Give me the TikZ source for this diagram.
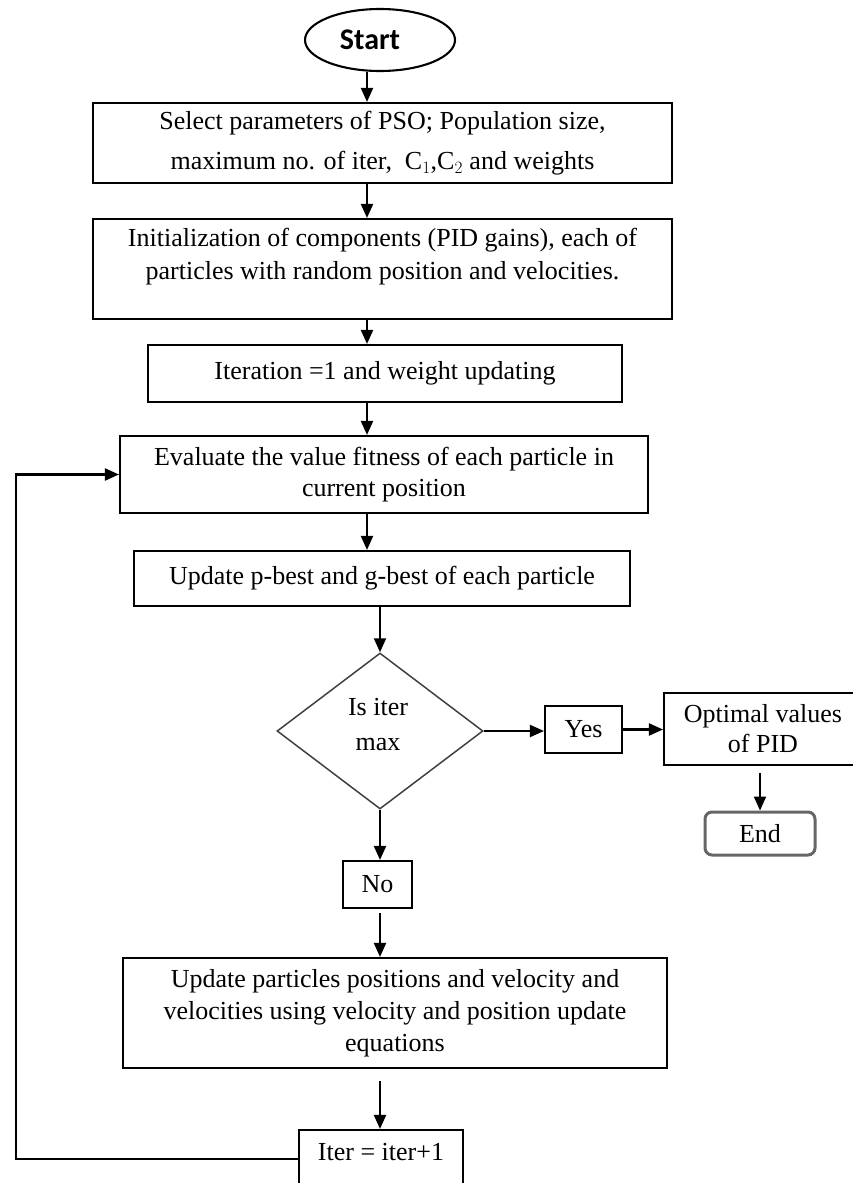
\documentclass[tikz,border=0pt]{standalone}
\usepackage{fontspec}
\setmainfont{Liberation Serif}
\newfontfamily\startfont{Carlito}
\usetikzlibrary{shapes.geometric,arrows.meta}
\begin{document}
\begin{tikzpicture}[x=1pt,y=-1pt,
  txt/.style={align=center, inner sep=0pt, font=\fontsize{26}{33}\selectfont},
  box/.style={draw, line width=2.1pt, txt},
  arr/.style={line width=2.1pt, -{Triangle[length=14pt,width=12pt]}},
]
\useasboundingbox (0,0) rectangle (852,1183);
% nodes
\node[draw, ellipse, line width=2.1pt, minimum width=150pt, minimum height=62pt, inner sep=0pt] (start) at (380,40) {};
\node[inner sep=0pt, font=\startfont\bfseries\fontsize{30}{34}\selectfont] (starttxt) at (370,40) {Start};
\node[box, minimum width=579pt, minimum height=80pt, font=\fontsize{26}{40}\selectfont] (b1) at (382.5,143) {Select parameters of PSO; Population size,\\maximum no. of iter,\ \ C$_1$,C$_2$ and weights};
\node[box, minimum width=579pt, minimum height=100pt] (b2) at (382.5,269) {};
\node[txt] (b2txt) at (382.5,257) {Initialization of components (PID gains), each of\\particles with random position and velocities.};
\node[box, minimum width=474pt, minimum height=57pt] (b3) at (385,373.5) {Iteration =1 and weight updating};
\node[box, minimum width=528pt, minimum height=77pt, font=\fontsize{26}{31}\selectfont] (b4) at (384,474.5) {Evaluate the value fitness of each particle in\\current position};
\node[box, minimum width=496pt, minimum height=55pt] (b5) at (382,578.5) {Update p-best and g-best of each particle};
\node[draw=black!75, line width=1.5pt, diamond, aspect=1.32, minimum width=206pt, minimum height=156pt, inner sep=0pt] (dia) at (380,731) {};
\node[txt, font=\fontsize{26}{35}\selectfont] (diatxt) at (378,725) {Is iter\\max};
\node[box, minimum width=77pt, minimum height=47pt] (yes) at (583.5,729.5) {Yes};
\node[box, minimum width=198pt, minimum height=72pt, font=\fontsize{26}{30}\selectfont] (opt) at (763,729) {Optimal values\\of PID};
\node[draw=black!60, line width=3pt, rounded corners=7pt, txt, minimum width=110pt, minimum height=43pt] (endn) at (760,833.5) {End};
\node[box, minimum width=69pt, minimum height=47pt] (no) at (377.5,884.5) {No};
\node[box, minimum width=544pt, minimum height=110pt, font=\fontsize{26}{32}\selectfont] (b6) at (395,1013) {Update particles positions and velocity and\\velocities using velocity and position update\\equations};
\node[box, minimum width=164pt, minimum height=65pt] (iter) at (381,1162.5) {};
\node[txt] (itertxt) at (381,1152) {Iter = iter+1};
% columns
\coordinate (c1) at (367,0);
\coordinate (c2) at (380,0);
\coordinate (lpB) at (16,1159);
\coordinate (lpT) at (16,474.5);
% connectors
\draw[arr] (start.south -| c1) -- (b1.north -| c1);
\draw[arr] (b1.south -| c1) -- (b2.north -| c1);
\draw[arr] (b2.south -| c1) -- (b3.north -| c1);
\draw[arr] (b3.south -| c1) -- (b4.north -| c1);
\draw[arr] (b4.south -| c1) -- (b5.north -| c1);
\draw[arr] (b5.south -| c2) -- (dia.north);
\draw[arr] (dia.east) -- (dia.east -| yes.west);
\draw[arr] (yes.east) -- (yes.east -| opt.west);
\draw[arr, shorten <=7pt] (opt.south -| endn) -- (endn.north);
\draw[arr] (dia.south) -- (dia.south |- no.north);
\draw[arr, shorten <=4pt] (no.south -| c2) -- (b6.north -| c2);
\draw[arr, shorten <=12pt] (b6.south -| c2) -- (iter.north -| c2);
\draw[arr] (lpB -| iter.west) -- (lpB) -- (lpT) -- (lpT -| b4.west);
\end{tikzpicture}
\end{document}
